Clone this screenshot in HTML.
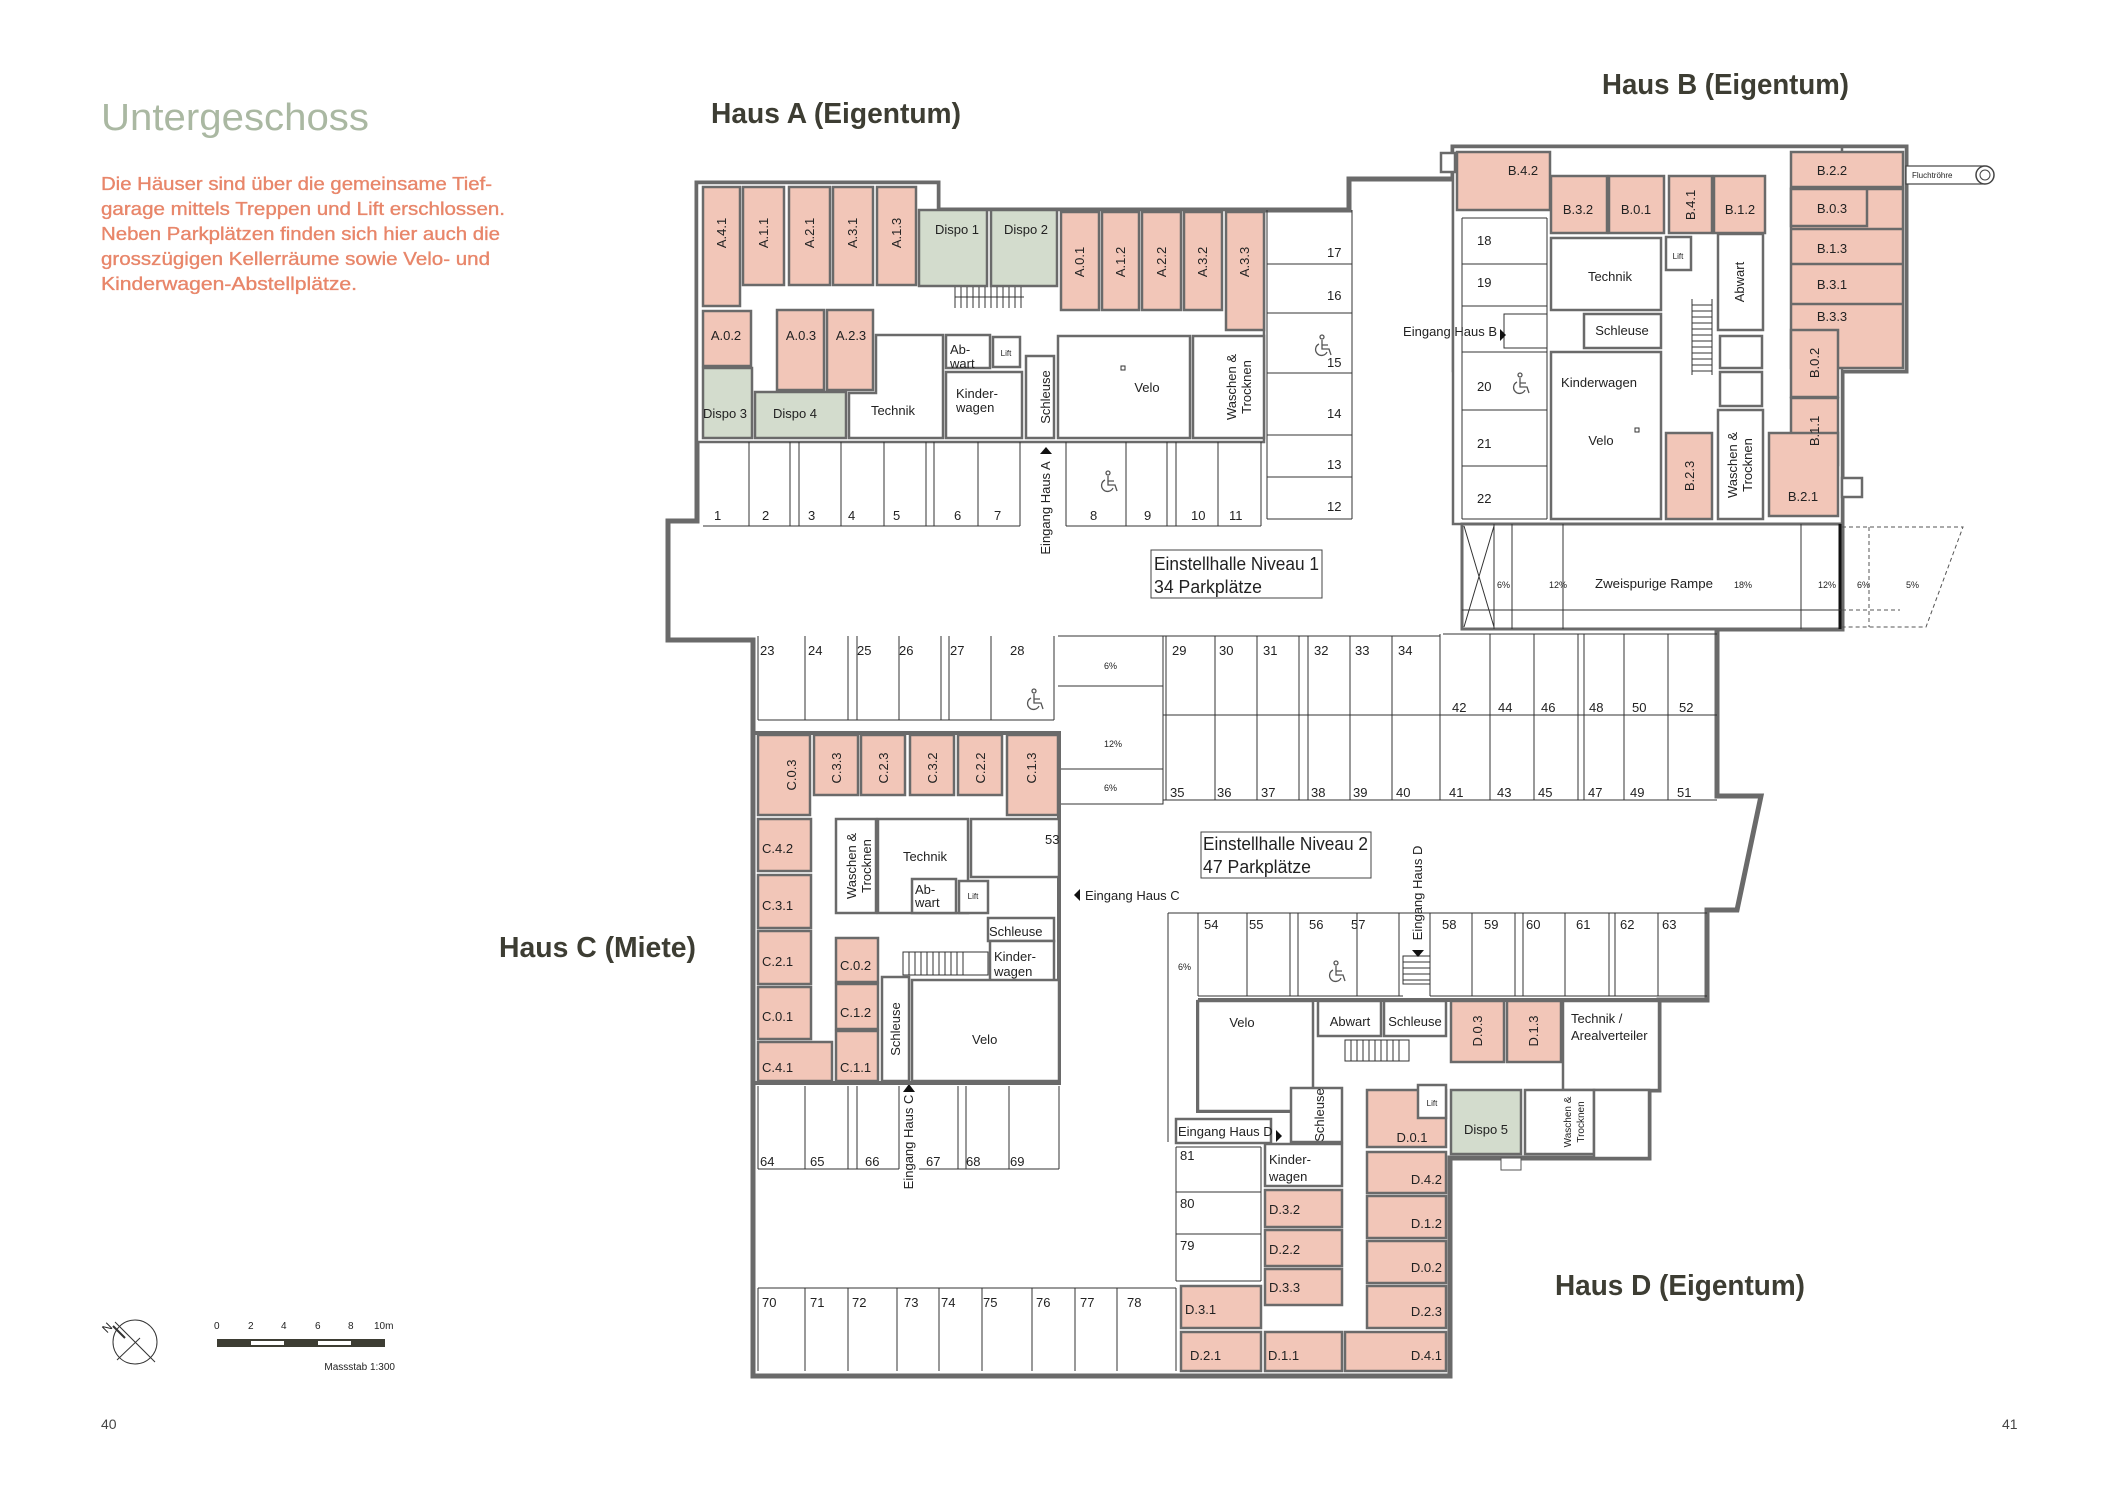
<!DOCTYPE html>
<html><head><meta charset="utf-8"><style>
html,body{margin:0;padding:0;background:#fff}
svg{display:block}
text{font-family:"Liberation Sans",sans-serif;fill:#222}
.pl{font-size:13px}
.sm{font-size:9px}
.p{fill:#f2c6b8;stroke:#6a6a6a;stroke-width:2.5}
.g{fill:#d3dccd;stroke:#6a6a6a;stroke-width:2.5}
.w{fill:#fff;stroke:#6a6a6a;stroke-width:2.5}
.t{stroke:#333;stroke-width:1;fill:none}
.wall{stroke:#6a6a6a;stroke-width:4;fill:none}
.wc{fill:none;stroke:#555;stroke-width:1.3}
</style></head><body>
<svg width="2117" height="1497" viewBox="0 0 2117 1497" xmlns="http://www.w3.org/2000/svg">
<defs>
<g id="wc"><circle cx="0" cy="-9" r="2" class="wc"/><path d="M0 -6V3H7L9 9M0 -1H6" class="wc"/><path d="M-3 -2A6 6 0 1 0 5 6" class="wc"/></g>
</defs>
<!-- Left text -->
<text x="101" y="130" style="font-size:38px;fill:#aab8a2" textLength="268" lengthAdjust="spacingAndGlyphs">Untergeschoss</text>
<g style="font-size:18.5px;stroke:#e8866a;stroke-width:0.35">
<text x="101" y="190" textLength="391" lengthAdjust="spacingAndGlyphs" style="fill:#e8866a">Die Häuser sind über die gemeinsame Tief-</text>
<text x="101" y="215" textLength="404" lengthAdjust="spacingAndGlyphs" style="fill:#e8866a">garage mittels Treppen und Lift erschlossen.</text>
<text x="101" y="240" textLength="399" lengthAdjust="spacingAndGlyphs" style="fill:#e8866a">Neben Parkplätzen finden sich hier auch die</text>
<text x="101" y="265" textLength="389" lengthAdjust="spacingAndGlyphs" style="fill:#e8866a">grosszügigen Kellerräume sowie Velo- und</text>
<text x="101" y="290" textLength="256" lengthAdjust="spacingAndGlyphs" style="fill:#e8866a">Kinderwagen-Abstellplätze.</text>
</g>
<g style="font-size:29px;font-weight:bold">
<text x="711" y="123" textLength="250" lengthAdjust="spacingAndGlyphs" style="fill:#3d3d33">Haus A (Eigentum)</text>
<text x="1602" y="94" textLength="247" lengthAdjust="spacingAndGlyphs" style="fill:#3d3d33">Haus B (Eigentum)</text>
<text x="499" y="957" textLength="197" lengthAdjust="spacingAndGlyphs" style="fill:#3d3d33">Haus C (Miete)</text>
<text x="1555" y="1295" textLength="250" lengthAdjust="spacingAndGlyphs" style="fill:#3d3d33">Haus D (Eigentum)</text>
</g>
<text x="101" y="1429" style="font-size:14px;fill:#444">40</text>
<text x="2002" y="1429" style="font-size:14px;fill:#444">41</text>
<!-- north + scale -->
<circle cx="135" cy="1342" r="22" fill="none" stroke="#333" stroke-width="1"/>
<line x1="115" y1="1322" x2="155" y2="1362" stroke="#333" stroke-width="1"/>
<line x1="117" y1="1360" x2="140" y2="1338" stroke="#333" stroke-width="1"/>
<line x1="113" y1="1326" x2="125" y2="1338" stroke="#333" stroke-width="2"/>
<text x="103" y="1332" style="font-size:12px" transform="rotate(-45 107 1328)">N</text>
<rect x="217" y="1339" width="168" height="8" fill="#3d3d33"/>
<rect x="251" y="1341" width="33" height="4" fill="#fff"/>
<rect x="318" y="1341" width="33" height="4" fill="#fff"/>
<g style="font-size:10px;fill:#333">
<text x="214" y="1329">0</text><text x="248" y="1329">2</text><text x="281" y="1329">4</text><text x="315" y="1329">6</text><text x="348" y="1329">8</text><text x="374" y="1329">10m</text>
<text x="395" y="1370" text-anchor="end">Massstab 1:300</text>
</g>

<!-- Outline -->
<polygon points="697,183 938,183 938,210 1349,210 1349,179 1453,179 1453,147 1906,147 1906,371 1842,371 1842,629 1717,629 1717,796 1761,796 1737,910 1707,910 1707,1000 1659,1000 1659,1090 1649,1090 1649,1158 1450,1158 1450,1376 753,1376 753,640 668,640 668,521 697,521" fill="#fff" stroke="#6a6a6a" stroke-width="5"/>

<!-- HAUS B core -->
<rect class="w" x="1453" y="147" width="453" height="224"/>
<rect class="w" x="1453" y="147" width="389" height="377"/>

<!-- HAUS A -->
<polygon class="w" points="697,183 938,183 938,210 1264,210 1264,442 697,442"/>
<rect class="p" x="703" y="187" width="37" height="119"/>
<rect class="p" x="743" y="187" width="41" height="98"/>
<rect class="p" x="789" y="187" width="41" height="98"/>
<rect class="p" x="833" y="187" width="40" height="98"/>
<rect class="p" x="877" y="187" width="39" height="98"/>
<rect class="g" x="919" y="210" width="68" height="76"/>
<rect class="g" x="991" y="210" width="66" height="76"/>
<rect class="p" x="703" y="311" width="48" height="55"/>
<rect class="g" x="703" y="368" width="49" height="70"/>
<rect class="g" x="755" y="392" width="91" height="46"/>
<rect class="p" x="777" y="310" width="47" height="80"/>
<rect class="p" x="827" y="310" width="46" height="80"/>
<polygon class="w" points="876,335 943,335 943,438 849,438 849,393 876,393"/>
<rect class="w" x="946" y="335" width="44" height="33"/>
<rect class="w" x="993" y="337" width="27" height="30"/>
<rect class="w" x="946" y="372" width="76" height="66"/>
<rect class="w" x="1026" y="356" width="28" height="82"/>
<rect class="p" x="1061" y="212" width="38" height="98"/>
<rect class="p" x="1102" y="212" width="37" height="98"/>
<rect class="p" x="1142" y="212" width="39" height="98"/>
<rect class="p" x="1184" y="212" width="38" height="98"/>
<rect class="p" x="1226" y="212" width="38" height="118"/>
<rect class="w" x="1058" y="336" width="132" height="102"/>
<rect class="w" x="1193" y="336" width="71" height="102"/>
<g class="t"><path d="M955 287V308M961 287V308M967 287V308M973 287V308M979 287V308M985 287V308M991 287V308M997 287V308M1003 287V308M1009 287V308M1015 287V308M1021 287V308M955 297H1024"/></g>
<g class="pl">
<text transform="translate(726,233) rotate(-90)" text-anchor="middle">A.4.1</text>
<text transform="translate(768,233) rotate(-90)" text-anchor="middle">A.1.1</text>
<text transform="translate(814,233) rotate(-90)" text-anchor="middle">A.2.1</text>
<text transform="translate(857,233) rotate(-90)" text-anchor="middle">A.3.1</text>
<text transform="translate(901,233) rotate(-90)" text-anchor="middle">A.1.3</text>
<text x="957" y="234" text-anchor="middle">Dispo 1</text>
<text x="1026" y="234" text-anchor="middle">Dispo 2</text>
<text x="726" y="340" text-anchor="middle">A.0.2</text>
<text x="725" y="418" text-anchor="middle">Dispo 3</text>
<text x="795" y="418" text-anchor="middle">Dispo 4</text>
<text x="801" y="340" text-anchor="middle">A.0.3</text>
<text x="851" y="340" text-anchor="middle">A.2.3</text>
<text x="893" y="415" text-anchor="middle">Technik</text>
<text x="950" y="354">Ab-</text><text x="950" y="368">wart</text>
<text x="956" y="398">Kinder-</text><text x="956" y="412">wagen</text>
<text transform="translate(1050,397) rotate(-90)" text-anchor="middle">Schleuse</text>
<text transform="translate(1084,262) rotate(-90)" text-anchor="middle">A.0.1</text>
<text transform="translate(1125,262) rotate(-90)" text-anchor="middle">A.1.2</text>
<text transform="translate(1166,262) rotate(-90)" text-anchor="middle">A.2.2</text>
<text transform="translate(1207,262) rotate(-90)" text-anchor="middle">A.3.2</text>
<text transform="translate(1249,262) rotate(-90)" text-anchor="middle">A.3.3</text>
<text x="1147" y="392" text-anchor="middle">Velo</text>
<text transform="translate(1236,387) rotate(-90)" text-anchor="middle">Waschen &amp;</text>
<text transform="translate(1251,387) rotate(-90)" text-anchor="middle">Trocknen</text>
<text x="1006" y="356" text-anchor="middle" style="font-size:8px">Lift</text>
</g>
<rect x="1121" y="366" width="4" height="4" fill="none" stroke="#333"/>

<!-- HAUS B rooms -->
<rect class="p" x="1457" y="152" width="93" height="58"/>
<rect class="p" x="1551" y="176" width="56" height="57"/>
<rect class="p" x="1609" y="176" width="55" height="57"/>
<rect class="p" x="1669" y="176" width="43" height="57"/>
<rect class="p" x="1714" y="176" width="51" height="57"/>
<rect class="p" x="1791" y="189" width="112" height="179"/>
<rect class="p" x="1791" y="152" width="112" height="35"/>
<rect class="p" x="1791" y="189" width="76" height="37"/>
<path d="M1791 229H1903M1791 264H1903M1791 304H1903" stroke="#6a6a6a" stroke-width="2.5"/>
<rect class="p" x="1791" y="330" width="47" height="67"/>
<rect class="p" x="1791" y="398" width="47" height="67"/>
<rect class="p" x="1769" y="433" width="69" height="83"/>
<rect class="p" x="1666" y="433" width="46" height="86"/>
<rect class="w" x="1551" y="238" width="110" height="72"/>
<rect class="w" x="1584" y="314" width="77" height="34"/>
<rect class="w" x="1551" y="352" width="110" height="167"/>
<rect class="w" x="1718" y="234" width="45" height="96"/>
<rect class="w" x="1718" y="410" width="45" height="109"/>
<rect class="w" x="1666" y="237" width="25" height="33"/>
<rect class="w" x="1720" y="336" width="42" height="32"/>
<rect class="w" x="1720" y="372" width="42" height="34"/>
<g class="t"><path d="M1692 299V375M1712 299V375M1692 305H1712M1692 311H1712M1692 317H1712M1692 323H1712M1692 329H1712M1692 335H1712M1692 341H1712M1692 347H1712M1692 353H1712M1692 359H1712M1692 365H1712M1692 371H1712"/></g>
<rect class="w" x="1441" y="153" width="14" height="19"/>
<rect class="w" x="1842" y="478" width="20" height="19"/>
<rect x="1906" y="166" width="78" height="18" fill="#fff" stroke="#444" stroke-width="1.2"/>
<circle cx="1985" cy="175" r="9" fill="#fff" stroke="#444" stroke-width="1.5"/>
<circle cx="1985" cy="175" r="5" fill="none" stroke="#444" stroke-width="1"/>
<text x="1912" y="178" style="font-size:8px">Fluchtröhre</text>
<g class="pl">
<text x="1523" y="175" text-anchor="middle">B.4.2</text>
<text x="1578" y="214" text-anchor="middle">B.3.2</text>
<text x="1636" y="214" text-anchor="middle">B.0.1</text>
<text transform="translate(1695,205) rotate(-90)" text-anchor="middle">B.4.1</text>
<text x="1740" y="214" text-anchor="middle">B.1.2</text>
<text x="1832" y="175" text-anchor="middle">B.2.2</text>
<text x="1832" y="213" text-anchor="middle">B.0.3</text>
<text x="1832" y="253" text-anchor="middle">B.1.3</text>
<text x="1832" y="289" text-anchor="middle">B.3.1</text>
<text x="1832" y="321" text-anchor="middle">B.3.3</text>
<text transform="translate(1819,363) rotate(-90)" text-anchor="middle">B.0.2</text>
<text transform="translate(1819,431) rotate(-90)" text-anchor="middle">B.1.1</text>
<text x="1803" y="501" text-anchor="middle">B.2.1</text>
<text transform="translate(1694,476) rotate(-90)" text-anchor="middle">B.2.3</text>
<text x="1610" y="281" text-anchor="middle">Technik</text>
<text x="1622" y="335" text-anchor="middle">Schleuse</text>
<text x="1599" y="387" text-anchor="middle">Kinderwagen</text>
<text x="1601" y="445" text-anchor="middle">Velo</text>
<text transform="translate(1744,282) rotate(-90)" text-anchor="middle">Abwart</text>
<text transform="translate(1737,465) rotate(-90)" text-anchor="middle">Waschen &amp;</text>
<text transform="translate(1752,465) rotate(-90)" text-anchor="middle">Trocknen</text>
<text x="1678" y="259" text-anchor="middle" style="font-size:8px">Lift</text>
</g>
<rect x="1635" y="428" width="4" height="4" fill="none" stroke="#333"/>

<!-- parking 1-22 -->
<g class="t">
<path d="M703 526H1020M1066 526H1261M749 442V526M790 442V526M799 442V526M841 442V526M884 442V526M926 442V526M934 442V526M978 442V526M1020 442V526M1066 442V526M1126 442V526M1167 442V526M1176 442V526M1218 442V526M1261 442V526"/>
<path d="M1267 210V519M1267 264H1352M1267 313H1352M1267 373H1352M1267 435H1352M1267 477H1352M1267 519H1352M1352 210V519"/>
<path d="M1462 218V519M1547 218V519M1462 218H1547M1462 264H1547M1462 306H1547M1462 352H1547M1462 410H1547M1462 466H1547M1462 519H1547"/>
<path d="M1504 314H1547V348H1504Z"/>
</g>
<g class="pl">
<text x="714" y="520">1</text><text x="762" y="520">2</text><text x="808" y="520">3</text><text x="848" y="520">4</text><text x="893" y="520">5</text><text x="954" y="520">6</text><text x="994" y="520">7</text>
<text x="1090" y="520">8</text><text x="1144" y="520">9</text><text x="1191" y="520">10</text><text x="1229" y="520">11</text>
<text x="1327" y="257">17</text><text x="1327" y="300">16</text><text x="1327" y="367">15</text><text x="1327" y="418">14</text><text x="1327" y="469">13</text><text x="1327" y="511">12</text>
<text x="1477" y="245">18</text><text x="1477" y="287">19</text><text x="1477" y="391">20</text><text x="1477" y="448">21</text><text x="1477" y="503">22</text>
<text x="1497" y="336" text-anchor="end">Eingang Haus B</text>
<text transform="translate(1050,508) rotate(-90)" text-anchor="middle">Eingang Haus A</text>
</g>
<polygon points="1500,329 1500,341 1506,335" fill="#111"/>
<polygon points="1040,454 1052,454 1046,447" fill="#111"/>
<use href="#wc" x="1108" y="482"/><use href="#wc" x="1322" y="346"/><use href="#wc" x="1520" y="384"/><use href="#wc" x="1336" y="972"/><use href="#wc" x="1034" y="700"/>
<rect x="1151" y="550" width="171" height="48" fill="#fff" stroke="#444" stroke-width="1"/>
<text x="1154" y="570" style="font-size:18px" textLength="165" lengthAdjust="spacingAndGlyphs">Einstellhalle Niveau 1</text>
<text x="1154" y="593" style="font-size:18px" textLength="108" lengthAdjust="spacingAndGlyphs">34 Parkplätze</text>

<!-- Ramp -->
<rect x="1462" y="524" width="380" height="105" fill="#fff" stroke="#6a6a6a" stroke-width="3"/>
<line x1="1840" y1="524" x2="1840" y2="629" stroke="#111" stroke-width="3"/>
<g class="t"><path d="M1512 524V629M1563 524V629M1801 524V629M1462 610H1842M1464 526L1494 627M1494 526L1464 627M1494 524V629"/></g>
<path d="M1842 527H1963L1926 627H1842M1869 527V627M1842 610H1900" fill="none" stroke="#555" stroke-width="1" stroke-dasharray="4,3"/>
<g style="font-size:9px"><text x="1497" y="588">6%</text><text x="1549" y="588">12%</text><text x="1734" y="588">18%</text><text x="1818" y="588">12%</text><text x="1857" y="588">6%</text><text x="1906" y="588">5%</text></g>
<text x="1595" y="588" class="pl" textLength="118" lengthAdjust="spacingAndGlyphs">Zweispurige Rampe</text>

<!-- Garage level 2 -->
<g class="t">
<path d="M1058 636H1163V804H1058M1058 686H1163M1058 769H1163"/>
<path d="M1163 636H1440M1163 715H1717M1163 800H1717M1443 634H1717M1166 636V800M1215 636V800M1257 636V800M1299 636V800M1308 636V800M1350 636V800M1392 636V800M1440 634V800M1490 634V800M1534 634V800M1578 634V800M1584 634V800M1624 634V800M1668 634V800"/>
<path d="M758 636V720M805 636V720M848 636V720M857 636V720M899 636V720M941 636V720M949 636V720M991 636V720M1054 636V720M758 720H1054"/>
<path d="M1168 913H1707M1168 913V1142M1198 913V996M1247 913V996M1290 913V996M1298 913V996M1357 913V996M1399 913V996M1430 913V996M1472 913V996M1515 913V996M1523 913V996M1565 913V996M1609 913V996M1615 913V996M1658 913V996M1198 996H1403M1430 996H1707"/>
<path d="M1176 1147H1261M1176 1147V1281M1176 1192H1261M1176 1234H1261M1176 1281H1261M1261 1147V1281"/>
<path d="M758 1086V1169M805 1086V1169M848 1086V1169M857 1086V1169M899 1086V1169M958 1086V1169M966 1086V1169M1009 1086V1169M1059 1086V1169M758 1169H899M919 1169H1059"/>
<path d="M758 1288H1176M758 1288V1371M805 1288V1371M848 1288V1371M897 1288V1371M939 1288V1371M982 1288V1371M1032 1288V1371M1075 1288V1371M1117 1288V1371M1176 1288V1371"/>
<path d="M1403 956H1430V984H1403ZM1403 962H1430M1403 968H1430M1403 974H1430M1403 980H1430"/>
</g>
<g style="font-size:9px"><text x="1104" y="669">6%</text><text x="1104" y="747">12%</text><text x="1104" y="791">6%</text><text x="1178" y="970">6%</text></g>
<g class="pl">
<text x="1172" y="655">29</text><text x="1219" y="655">30</text><text x="1263" y="655">31</text><text x="1314" y="655">32</text><text x="1355" y="655">33</text><text x="1398" y="655">34</text>
<text x="1452" y="712">42</text><text x="1498" y="712">44</text><text x="1541" y="712">46</text><text x="1589" y="712">48</text><text x="1632" y="712">50</text><text x="1679" y="712">52</text>
<text x="1170" y="797">35</text><text x="1217" y="797">36</text><text x="1261" y="797">37</text><text x="1311" y="797">38</text><text x="1353" y="797">39</text><text x="1396" y="797">40</text><text x="1449" y="797">41</text><text x="1497" y="797">43</text><text x="1538" y="797">45</text><text x="1588" y="797">47</text><text x="1630" y="797">49</text><text x="1677" y="797">51</text>
<text x="760" y="655">23</text><text x="808" y="655">24</text><text x="857" y="655">25</text><text x="899" y="655">26</text><text x="950" y="655">27</text><text x="1010" y="655">28</text>
<text x="1204" y="929">54</text><text x="1249" y="929">55</text><text x="1309" y="929">56</text><text x="1351" y="929">57</text><text x="1442" y="929">58</text><text x="1484" y="929">59</text><text x="1526" y="929">60</text><text x="1576" y="929">61</text><text x="1620" y="929">62</text><text x="1662" y="929">63</text>
<text x="1180" y="1160">81</text><text x="1180" y="1208">80</text><text x="1180" y="1250">79</text>
<text x="760" y="1166">64</text><text x="810" y="1166">65</text><text x="865" y="1166">66</text><text x="926" y="1166">67</text><text x="966" y="1166">68</text><text x="1010" y="1166">69</text>
<text x="762" y="1307">70</text><text x="810" y="1307">71</text><text x="852" y="1307">72</text><text x="904" y="1307">73</text><text x="941" y="1307">74</text><text x="983" y="1307">75</text><text x="1036" y="1307">76</text><text x="1080" y="1307">77</text><text x="1127" y="1307">78</text>
<text x="1085" y="900">Eingang Haus C</text>
<text transform="translate(1422,893) rotate(-90)" text-anchor="middle">Eingang Haus D</text>
<text transform="translate(913,1142) rotate(-90)" text-anchor="middle">Eingang Haus C</text>
</g>
<polygon points="1080,889 1080,901 1074,895" fill="#111"/>
<polygon points="1412,950 1424,950 1418,957" fill="#111"/>
<polygon points="903,1092 915,1092 909,1084" fill="#111"/>
<rect x="1201" y="832" width="170" height="46" fill="#fff" stroke="#444" stroke-width="1"/>
<text x="1203" y="850" style="font-size:18px" textLength="165" lengthAdjust="spacingAndGlyphs">Einstellhalle Niveau 2</text>
<text x="1203" y="873" style="font-size:18px" textLength="108" lengthAdjust="spacingAndGlyphs">47 Parkplätze</text>

<!-- HAUS C -->
<path d="M753 733H1059V1083H753" class="wall"/>
<rect class="p" x="758" y="735" width="52" height="80"/>
<rect class="p" x="814" y="735" width="44" height="60"/>
<rect class="p" x="861" y="735" width="44" height="60"/>
<rect class="p" x="910" y="735" width="44" height="60"/>
<rect class="p" x="958" y="735" width="44" height="60"/>
<rect class="p" x="1007" y="735" width="51" height="80"/>
<rect class="p" x="758" y="819" width="53" height="52"/>
<rect class="p" x="758" y="875" width="53" height="53"/>
<rect class="p" x="758" y="931" width="53" height="53"/>
<rect class="p" x="758" y="987" width="53" height="52"/>
<rect class="p" x="758" y="1042" width="74" height="39"/>
<rect class="p" x="836" y="938" width="42" height="44"/>
<rect class="p" x="836" y="984" width="42" height="45"/>
<rect class="p" x="836" y="1031" width="42" height="50"/>
<rect class="w" x="836" y="819" width="40" height="94"/>
<rect class="w" x="878" y="819" width="90" height="94"/>
<rect class="w" x="912" y="879" width="44" height="34"/>
<rect class="w" x="959" y="881" width="29" height="32"/>
<rect class="w" x="971" y="819" width="88" height="58"/>
<rect class="w" x="988" y="918" width="66" height="23"/>
<rect class="w" x="990" y="941" width="64" height="41"/>
<rect class="w" x="882" y="977" width="27" height="104"/>
<rect class="w" x="912" y="980" width="147" height="101"/>
<g class="t"><path d="M903 952H988V975H903ZM909 952V975M915 952V975M921 952V975M927 952V975M933 952V975M939 952V975M945 952V975M951 952V975M957 952V975M963 952V975"/></g>
<g class="pl">
<text transform="translate(796,775) rotate(-90)" text-anchor="middle">C.0.3</text>
<text transform="translate(841,768) rotate(-90)" text-anchor="middle">C.3.3</text>
<text transform="translate(888,768) rotate(-90)" text-anchor="middle">C.2.3</text>
<text transform="translate(937,768) rotate(-90)" text-anchor="middle">C.3.2</text>
<text transform="translate(985,768) rotate(-90)" text-anchor="middle">C.2.2</text>
<text transform="translate(1036,768) rotate(-90)" text-anchor="middle">C.1.3</text>
<text x="762" y="853">C.4.2</text><text x="762" y="910">C.3.1</text><text x="762" y="966">C.2.1</text><text x="762" y="1021">C.0.1</text><text x="762" y="1072">C.4.1</text>
<text x="840" y="970">C.0.2</text><text x="840" y="1017">C.1.2</text><text x="840" y="1072">C.1.1</text>
<text transform="translate(856,866) rotate(-90)" text-anchor="middle">Waschen &amp;</text>
<text transform="translate(871,866) rotate(-90)" text-anchor="middle">Trocknen</text>
<text x="925" y="861" text-anchor="middle">Technik</text>
<text x="915" y="894">Ab-</text><text x="915" y="907">wart</text>
<text x="1045" y="844">53</text>
<text x="989" y="936">Schleuse</text>
<text x="994" y="961">Kinder-</text><text x="994" y="976">wagen</text>
<text transform="translate(900,1029) rotate(-90)" text-anchor="middle">Schleuse</text>
<text x="972" y="1044">Velo</text>
<text x="973" y="899" text-anchor="middle" style="font-size:8px">Lift</text>
</g>

<!-- HAUS D -->
<path d="M1198 1000H1659M1198 1000V1111H1291M1176 1376H1450V1158" class="wall"/>
<rect class="w" x="1198" y="1001" width="115" height="110"/>
<rect class="w" x="1318" y="1001" width="63" height="35"/>
<rect class="w" x="1384" y="1001" width="62" height="35"/>
<rect class="p" x="1451" y="1001" width="53" height="61"/>
<rect class="p" x="1507" y="1001" width="54" height="61"/>
<rect class="w" x="1563" y="1001" width="96" height="89"/>
<rect class="g" x="1451" y="1090" width="70" height="64"/>
<rect class="w" x="1525" y="1090" width="69" height="64"/>
<rect class="w" x="1594" y="1090" width="55" height="68"/>
<rect class="w" x="1291" y="1088" width="51" height="54"/>
<rect class="p" x="1367" y="1090" width="79" height="57"/>
<rect class="p" x="1367" y="1152" width="79" height="41"/>
<rect class="p" x="1367" y="1196" width="79" height="42"/>
<rect class="p" x="1367" y="1241" width="79" height="42"/>
<rect class="p" x="1367" y="1286" width="79" height="42"/>
<rect class="p" x="1345" y="1332" width="101" height="39"/>
<rect class="w" x="1265" y="1144" width="77" height="42"/>
<rect class="p" x="1265" y="1190" width="77" height="37"/>
<rect class="p" x="1265" y="1230" width="77" height="36"/>
<rect class="p" x="1265" y="1269" width="77" height="36"/>
<rect class="p" x="1181" y="1286" width="80" height="42"/>
<rect class="p" x="1181" y="1332" width="80" height="39"/>
<rect class="p" x="1265" y="1332" width="77" height="39"/>
<rect class="w" x="1418" y="1085" width="28" height="33"/>
<rect class="w" x="1176" y="1119" width="95" height="24"/>
<g class="t"><path d="M1345 1040H1409V1061H1345ZM1351 1040V1061M1357 1040V1061M1363 1040V1061M1369 1040V1061M1375 1040V1061M1381 1040V1061M1387 1040V1061M1393 1040V1061M1399 1040V1061"/></g>
<g class="pl">
<text x="1242" y="1027" text-anchor="middle">Velo</text>
<text x="1350" y="1026" text-anchor="middle">Abwart</text>
<text x="1415" y="1026" text-anchor="middle">Schleuse</text>
<text transform="translate(1482,1031) rotate(-90)" text-anchor="middle">D.0.3</text>
<text transform="translate(1538,1031) rotate(-90)" text-anchor="middle">D.1.3</text>
<text x="1571" y="1023">Technik /</text><text x="1571" y="1040">Arealverteiler</text>
<text x="1486" y="1134" text-anchor="middle">Dispo 5</text>
<text transform="translate(1571,1122) rotate(-90)" text-anchor="middle" style="font-size:10px">Waschen &amp;</text>
<text transform="translate(1584,1122) rotate(-90)" text-anchor="middle" style="font-size:10px">Trocknen</text>
<text x="1432" y="1106" text-anchor="middle" style="font-size:8px">Lift</text>
<text transform="translate(1324,1115) rotate(-90)" text-anchor="middle">Schleuse</text>
<text x="1412" y="1142" text-anchor="middle">D.0.1</text>
<text x="1442" y="1184" text-anchor="end">D.4.2</text>
<text x="1442" y="1228" text-anchor="end">D.1.2</text>
<text x="1442" y="1272" text-anchor="end">D.0.2</text>
<text x="1442" y="1316" text-anchor="end">D.2.3</text>
<text x="1442" y="1360" text-anchor="end">D.4.1</text>
<text x="1269" y="1164">Kinder-</text><text x="1269" y="1181">wagen</text>
<text x="1269" y="1214">D.3.2</text><text x="1269" y="1254">D.2.2</text><text x="1269" y="1292">D.3.3</text>
<text x="1185" y="1314">D.3.1</text><text x="1190" y="1360">D.2.1</text><text x="1268" y="1360">D.1.1</text>
<text x="1178" y="1136">Eingang Haus D</text>
</g>
<polygon points="1276,1130 1276,1142 1282,1136" fill="#111"/>
<rect x="1501" y="1158" width="20" height="12" fill="#fff" stroke="#555"/>
</svg>
</body></html>
